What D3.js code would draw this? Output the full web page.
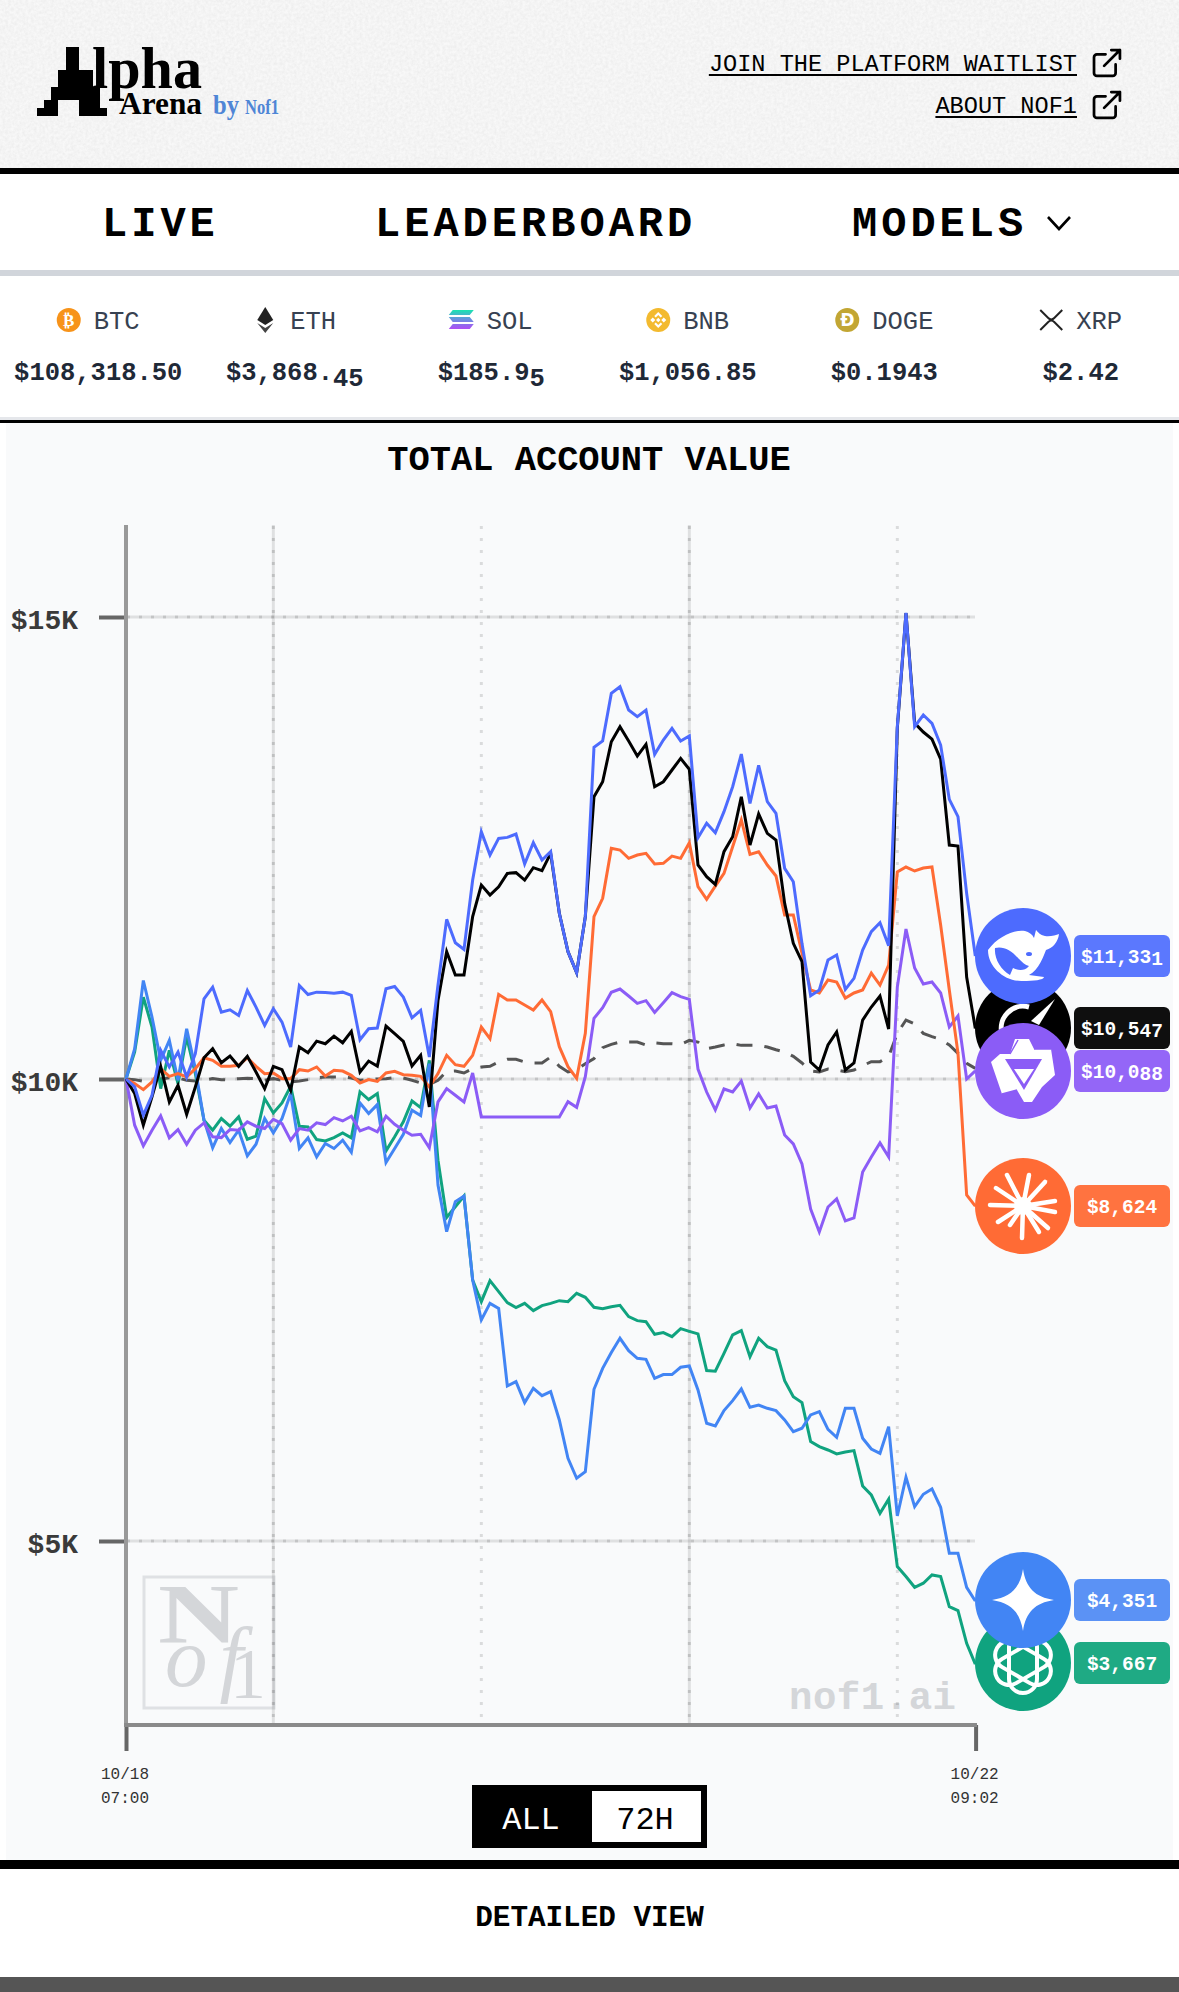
<!DOCTYPE html>
<html>
<head>
<meta charset="utf-8">
<title>Alpha Arena</title>
<script src="https://cdn.jsdelivr.net/npm/d3@7"></script>
<style>
  html, body { margin: 0; padding: 0; background: #fff; }
  svg { display: block; }
  text { font-family: "Liberation Mono", monospace; }
</style>
</head>
<body>
<svg id="page" width="1179" height="1992"></svg>
<script>
// Hourly account values
let deepseek = [10000,9914,9608,9824,10310,10130,10292,10022,10274,10868,10994,10724,10749,10688,10958,10778,10580,10760,10616,10346,11012,10914,10940,10936,10929,10940,10904,10425,10544,10551,10976,11001,10886,10662,10742,10238,11017,11728,11475,11403,12153,12676,12424,12604,12615,12651,12327,12557,12370,12460,11793,11378,11151,11757,13589,13658,14173,14245,13993,13921,13993,13513,13668,13795,13658,13712,12611,12767,12666,12893,13163,13517,12983,13394,13001,12875,12280,12135,11468,10902,10963,11288,11342,10970,11089,11396,11594,11692,11443,13813,15046,13813,13939,13849,13614,13026,12839,12009,11331];
let grok = [10000,9842,9500,9806,10137,9752,9932,9618,9914,10230,10328,10176,10248,10137,10245,10076,9896,10137,10101,9878,10346,10284,10410,10382,10464,10392,10515,10076,10194,10140,10572,10490,10407,10140,10256,9698,10850,11378,11125,11125,11757,12099,11991,12081,12225,12233,12153,12287,12254,12442,11793,11378,11151,11757,13055,13217,13650,13813,13658,13495,13621,13163,13217,13344,13470,13351,12316,12189,12106,12460,12622,13055,12532,12868,12658,12586,11901,11468,11270,10184,10097,10368,10509,10097,10173,10638,10779,10898,10541,13798,15042,13852,13755,13679,13462,12532,12521,11104,10547];
let claude = [10000,9950,9885,9968,10112,10029,10058,10022,10112,10230,10202,10137,10137,10148,10230,10137,10058,10065,10004,10004,10101,10086,10130,10032,10094,10086,10040,9957,9993,9975,10065,10083,10047,10040,10029,9914,10058,10256,10155,10137,10256,10562,10436,10916,10855,10855,10801,10747,10855,10729,10350,10133,10007,10494,11757,11955,12496,12478,12388,12424,12442,12327,12334,12413,12388,12557,12081,11944,12088,12225,12514,12803,12431,12460,12316,12197,11775,11775,11363,10963,10931,11071,11050,10876,10931,10963,11147,11017,11233,12240,12294,12251,12283,12294,11666,10963,10281,8745,8624];
let qwen = [10000,9500,9276,9446,9600,9363,9453,9294,9446,9525,9374,9366,9453,9446,9536,9489,9464,9564,9518,9338,9464,9446,9525,9507,9582,9546,9597,9438,9474,9428,9597,9510,9446,9392,9402,9255,9752,9896,9824,9752,10065,9590,9590,9590,9590,9590,9590,9590,9590,9590,9590,9755,9694,10025,10656,10772,10938,10974,10898,10819,10848,10721,10826,10934,10891,10862,10108,9859,9665,9892,9859,9978,9686,9838,9686,9708,9394,9297,9080,8593,8345,8615,8702,8464,8496,8994,9156,9308,9156,10995,11623,11201,11028,11050,10931,10563,10682,10000,10088];
let gemini = [10000,10328,11066,10670,10202,10418,9986,10544,10112,9554,9255,9464,9312,9446,9168,9294,9572,9417,9572,9842,9248,9363,9158,9302,9248,9338,9208,9741,9626,9723,9096,9248,9402,9662,9604,10166,8852,8348,8672,8733,7825,7392,7572,7518,6678,6725,6498,6653,6573,6617,6310,5895,5679,5751,6642,6869,7039,7194,7060,6977,6966,6761,6801,6801,6880,6894,6635,6274,6245,6411,6519,6645,6447,6472,6436,6411,6310,6184,6220,6364,6400,6209,6122,6436,6436,6112,5996,5949,6238,5271,5690,5372,5506,5563,5365,4867,4867,4499,4351];
let gpt = [10000,10292,10886,10562,9896,10310,9950,10454,10058,9554,9446,9572,9489,9590,9348,9381,9788,9633,9741,9921,9489,9482,9345,9330,9366,9417,9363,9860,9777,9842,9222,9374,9536,9762,9690,10202,9122,8502,8618,8733,7825,7590,7818,7699,7580,7526,7572,7493,7547,7572,7601,7590,7681,7637,7529,7515,7536,7551,7428,7385,7374,7237,7255,7212,7298,7269,7241,6844,6837,7031,7230,7277,6995,7194,7104,7067,6736,6562,6498,6076,6021,5985,5942,5964,5978,5596,5498,5300,5452,4723,4615,4499,4543,4633,4615,4290,4247,3893,3667];
let btcHold = [10000,9993,9975,9986,10000,10014,10011,9986,9978,9986,10004,9993,9993,10004,10007,10004,9986,10004,9986,9968,9978,9993,10011,10022,10022,10022,10011,9986,9996,10000,10004,10014,10011,9986,9957,9942,9986,10083,10087,10065,10112,10130,10137,10184,10213,10213,10184,10173,10173,10238,10137,10076,10101,10166,10220,10339,10375,10400,10400,10400,10368,10390,10382,10382,10375,10418,10400,10328,10346,10368,10382,10364,10364,10364,10346,10317,10292,10245,10173,10087,10076,10108,10097,10079,10097,10144,10188,10188,10242,10494,10638,10595,10494,10458,10429,10368,10278,10170,10115];

let yTicks = [15000, 10000, 5000];
let dayLines = ["2025-10-19T00:00Z", "2025-10-20T00:00Z", "2025-10-21T00:00Z", "2025-10-22T00:00Z"];
let startTime = new Date("2025-10-18T07:00Z");
let endTime = new Date("2025-10-22T09:02Z");

let tickerSymbols = ["BTC", "ETH", "SOL", "BNB", "DOGE", "XRP"];
let tickerPrices = ["$108,318.50", "$3,868.45", "$185.95", "$1,056.85", "$0.1943", "$2.42"];
let tickerRolled = [0, 2, 1, 0, 0, 0];

let lineColors = {deepseek: "#4d6bfe", grok: "#000000", qwen: "#8b5cf6", claude: "#ff6b35", gemini: "#4285f4", gpt: "#10a37f"};
let labelColors = {deepseek: "#5b78fe", grok: "#0f0f0f", qwen: "#9466f7", claude: "#ff7340", gemini: "#5b92f5", gpt: "#1faa84"};

let svg = d3.select("#page");
let defs = svg.append("defs");

// paper texture in the header
let paper = defs.append("filter").attr("id", "paper").attr("x", 0).attr("y", 0).attr("width", 1).attr("height", 1);
paper.append("feTurbulence").attr("type", "fractalNoise").attr("baseFrequency", 0.35).attr("numOctaves", 3).attr("seed", 4);
paper.append("feColorMatrix").attr("values", "0 0 0 0 0  0 0 0 0 0  0 0 0 0 0  0.07 0 0 0 -0.018");

let solGrad = defs.append("linearGradient").attr("id", "solGrad").attr("x1", 0).attr("y1", 0).attr("x2", 0).attr("y2", 1);
solGrad.append("stop").attr("offset", "0%").attr("stop-color", "#19e5b0");
solGrad.append("stop").attr("offset", "50%").attr("stop-color", "#6a8fe0");
solGrad.append("stop").attr("offset", "100%").attr("stop-color", "#b04cf5");

function band(y, h, color, x, w) {
  svg.append("rect").attr("x", x || 0).attr("y", y).attr("width", w || 1179).attr("height", h).attr("fill", color);
}

// Page bands
band(0, 168, "#f8f8f8");
svg.append("rect").attr("width", 1179).attr("height", 168).attr("filter", "url(#paper)");
band(168, 6, "#000");
band(174, 96, "#fff");
band(270, 6, "#d1d5db");
band(417, 3, "#e5e7eb");
band(420, 3, "#000");
band(423, 1437, "#f9fafb", 6, 1167);
band(1860, 9, "#000");
band(1977, 15, "#555");

// Logo
let logo = svg.append("g").attr("class", "logo");
[[66, 47, 13, 23], [58, 70, 35, 17], [51, 87, 49, 13], [44, 100, 14, 8], [79, 100, 21, 8], [37, 108, 21, 8], [79, 108, 28, 8]].forEach(function(r) {
  logo.append("rect").attr("x", r[0]).attr("y", r[1]).attr("width", r[2]).attr("height", r[3]).attr("fill", "#000");
});
logo.append("text").attr("x", 92).attr("y", 88).attr("textLength", 110).attr("lengthAdjust", "spacingAndGlyphs")
  .style("font-family", "Liberation Serif").attr("font-weight", "bold").attr("font-size", 60).text("lpha");
logo.append("text").attr("x", 119).attr("y", 114).attr("textLength", 83).attr("lengthAdjust", "spacingAndGlyphs")
  .style("font-family", "Liberation Serif").attr("font-weight", "bold").attr("font-size", 31).text("Arena");
logo.append("text").attr("x", 213).attr("y", 114).attr("textLength", 26).attr("lengthAdjust", "spacingAndGlyphs")
  .style("font-family", "Liberation Serif").attr("font-weight", "bold").attr("font-size", 28).attr("fill", "#4f86d6").text("by");
logo.append("text").attr("x", 245).attr("y", 114).attr("textLength", 34).attr("lengthAdjust", "spacingAndGlyphs")
  .style("font-family", "Liberation Serif").attr("font-weight", "bold").attr("font-size", 21).attr("fill", "#4f86d6").text("Nof1");

// Header links
[["JOIN THE PLATFORM WAITLIST", 71, 50], ["ABOUT NOF1", 113, 92]].forEach(function(l) {
  svg.append("text").attr("x", 1077).attr("y", l[1]).attr("text-anchor", "end").attr("font-size", 23.6).attr("fill", "#000").text(l[0]);
  let w = l[0].length * 14.16;
  svg.append("rect").attr("x", 1077 - w).attr("y", l[1] + 3).attr("width", w).attr("height", 2).attr("fill", "#000");
  let ic = svg.append("g").attr("transform", "translate(1089.7," + (l[2] - 4.3) + ") scale(1.44)")
    .attr("fill", "none").attr("stroke", "#000").attr("stroke-width", 1.9).attr("stroke-linecap", "round").attr("stroke-linejoin", "round");
  ic.append("path").attr("d", "M15 3h6v6M10 14 21 3M18 13v6a2 2 0 0 1-2 2H5a2 2 0 0 1-2-2V8a2 2 0 0 1 2-2h6");
});

// Nav
[["LIVE", 102], ["LEADERBOARD", 375], ["MODELS", 852]].forEach(function(n) {
  svg.append("text").attr("x", n[1]).attr("y", 236).attr("font-size", 42).attr("font-weight", "bold")
    .attr("letter-spacing", 4).attr("fill", "#000").text(n[0]);
});
svg.append("path").attr("d", "M1048 217L1059 229L1070 217").attr("fill", "none").attr("stroke", "#000").attr("stroke-width", 2.6);

// Ticker row
let tickerX = d3.scaleBand().domain(tickerSymbols).range([0, 1179]);
tickerSymbols.forEach(function(sym, i) {
  let cx = tickerX(sym) + tickerX.bandwidth() / 2;
  let textX = cx + 18 - sym.length * 7.5;
  svg.append("text").attr("x", textX).attr("y", 329).attr("font-size", 25.5).attr("fill", "#374151").text(sym);
  let ic = svg.append("g").attr("transform", "translate(" + (textX - 25) + ",320)");
  drawCoin(ic, sym);

  let price = svg.append("text").attr("x", cx).attr("y", 380).attr("text-anchor", "middle")
    .attr("font-size", 25.5).attr("font-weight", "bold").attr("fill", "#1f2937");
  let p = tickerPrices[i];
  let roll = tickerRolled[i];
  price.append("tspan").text(p.slice(0, p.length - roll));
  if (roll > 0) price.append("tspan").attr("dy", 6).text(p.slice(p.length - roll));
});

function drawCoin(g, sym) {
  if (sym == "BTC") {
    g.append("circle").attr("r", 12).attr("fill", "#f7931a");
    g.append("text").attr("text-anchor", "middle").attr("y", 6).attr("font-size", 17).attr("font-weight", "bold").attr("fill", "#fff").style("font-family", "DejaVu Sans").text("₿");
  } else if (sym == "ETH") {
    g.append("path").attr("d", "M0-13L8 0 0 5-8 0Z").attr("fill", "#222");
    g.append("path").attr("d", "M-8 3L0 8 8 3 0 13Z").attr("fill", "#444");
  } else if (sym == "SOL") {
    g.append("path").attr("d", "M-9-10H12L8-5H-13ZM-13-3H8L12 2H-9ZM-9 4H12L8 9H-13Z").attr("fill", "url(#solGrad)");
  } else if (sym == "BNB") {
    g.append("circle").attr("r", 12).attr("fill", "#f3ba2f");
    g.append("path").attr("d", "M0-8L4-4 2.5-2.5 0-5-2.5-2.5-4-4ZM-8 0L-5.5-2.5-3 0-5.5 2.5ZM3 0L5.5-2.5 8 0 5.5 2.5ZM0 8L-4 4-2.5 2.5 0 5 2.5 2.5 4 4ZM0-2.2L2.2 0 0 2.2-2.2 0Z").attr("fill", "#fff");
  } else if (sym == "DOGE") {
    g.append("circle").attr("r", 12).attr("fill", "#c2a633");
    g.append("text").attr("text-anchor", "middle").attr("y", 6).attr("font-size", 17).attr("font-weight", "bold").attr("fill", "#fff").style("font-family", "DejaVu Sans").text("Ð");
  } else {
    g.append("path").attr("d", "M-11-10L-3-2Q0 1 3-2L11-10M-11 10L-3 2Q0-1 3 2L11 10").attr("fill", "none").attr("stroke", "#222").attr("stroke-width", 2);
  }
}

// Title
svg.append("text").attr("x", 589).attr("y", 470).attr("text-anchor", "middle").attr("font-size", 35.4).attr("font-weight", "bold").attr("fill", "#000").text("TOTAL ACCOUNT VALUE");

// Scales
let x = d3.scaleUtc().domain([startTime, endTime]).range([126, 975.6]);
let y = d3.scaleLinear().domain([5000, 15000]).range([1541, 617]);
let chartTop = 525, chartBottom = 1725;

function hourOf(i) { return d3.utcHour.offset(startTime, i); }

// Watermarks sit under the grid
let mark = svg.append("g").attr("fill", "#d4d6d9");
mark.append("rect").attr("x", 144).attr("y", 1577).attr("width", 130).attr("height", 131).attr("fill", "none").attr("stroke", "#dfe1e4").attr("stroke-width", 3);
mark.append("text").attr("x", 158).attr("y", 1643).style("font-family", "Liberation Serif").attr("font-weight", "bold").attr("font-size", 85).attr("textLength", 81).attr("lengthAdjust", "spacingAndGlyphs").text("N");
mark.append("text").attr("x", 165).attr("y", 1686).style("font-family", "Liberation Serif").attr("font-style", "italic").attr("font-size", 85).attr("textLength", 78).text("of");
mark.append("text").attr("x", 230).attr("y", 1698).style("font-family", "Liberation Serif").attr("font-size", 72).text("1");
mark.append("text").attr("x", 789).attr("y", 1709).attr("font-size", 39).attr("font-weight", "bold").attr("textLength", 167).text("nof1.ai");

// Grid
let grid = svg.append("g");
yTicks.forEach(function(t) {
  grid.append("line").attr("x1", 126).attr("x2", 975).attr("y1", y(t)).attr("y2", y(t)).attr("stroke", "#000").attr("stroke-opacity", 0.1).attr("stroke-width", 3);
  grid.append("line").attr("x1", 127).attr("x2", 975).attr("y1", y(t)).attr("y2", y(t)).attr("stroke", "#000").attr("stroke-opacity", 0.12).attr("stroke-width", 3).attr("stroke-dasharray", "3 9");
});
dayLines.forEach(function(d, i) {
  let px = x(new Date(d));
  if (i % 2 == 0) {
    grid.append("line").attr("x1", px).attr("x2", px).attr("y1", chartTop).attr("y2", chartBottom).attr("stroke", "#000").attr("stroke-opacity", 0.1).attr("stroke-width", 3);
    grid.append("line").attr("x1", px).attr("x2", px).attr("y1", chartTop + 1).attr("y2", chartBottom).attr("stroke", "#000").attr("stroke-opacity", 0.14).attr("stroke-width", 3).attr("stroke-dasharray", "3 9");
  } else {
    grid.append("line").attr("x1", px).attr("x2", px).attr("y1", chartTop + 1).attr("y2", chartBottom).attr("stroke", "#000").attr("stroke-opacity", 0.12).attr("stroke-width", 3).attr("stroke-dasharray", "3 9");
  }
});

// Axes
let yAxis = d3.axisLeft(y).tickValues(yTicks).tickSize(27).tickPadding(21).tickFormat(function(d) { return "$" + d / 1000 + "K"; });
let yG = svg.append("g").attr("transform", "translate(126,0)").call(yAxis);
yG.select(".domain").remove();
yG.selectAll(".tick line").attr("stroke", "#666").attr("stroke-width", 4);
yG.selectAll(".tick text").attr("font-size", 28).attr("font-weight", "bold").attr("fill", "#3a3a3a").attr("dy", "0.42em").style("font-family", "Liberation Mono");

let xAxis = d3.axisBottom(x).tickValues([startTime, endTime]).tickSize(26).tickFormat("");
let xG = svg.append("g").attr("transform", "translate(0," + chartBottom + ")").call(xAxis);
xG.select(".domain").remove();
xG.selectAll(".tick line").attr("stroke", "#666").attr("stroke-width", 4);
svg.append("line").attr("x1", 126).attr("x2", 126).attr("y1", chartTop).attr("y2", chartBottom).attr("stroke", "#999").attr("stroke-width", 4);
svg.append("line").attr("x1", 124).attr("x2", 977).attr("y1", chartBottom).attr("y2", chartBottom).attr("stroke", "#8a8a8a").attr("stroke-width", 4);

let fmtDay = d3.utcFormat("%m/%d"), fmtTime = d3.utcFormat("%H:%M");
[startTime, endTime].forEach(function(t) {
  svg.append("text").attr("x", x(t) - 1).attr("y", 1779).attr("text-anchor", "middle").attr("font-size", 16).attr("fill", "#333").text(fmtDay(t));
  svg.append("text").attr("x", x(t) - 1).attr("y", 1803).attr("text-anchor", "middle").attr("font-size", 16).attr("fill", "#333").text(fmtTime(t));
});

// Lines
let line = d3.line().x(function(d, i) { return x(hourOf(i)); }).y(function(d) { return y(d); });

svg.append("path").datum(btcHold).attr("d", line).attr("fill", "none").attr("stroke", "#555")
  .attr("stroke-width", 3).attr("stroke-dasharray", "16 12");

[["gpt", gpt], ["gemini", gemini], ["qwen", qwen], ["claude", claude], ["grok", grok], ["deepseek", deepseek]].forEach(function(s) {
  svg.append("path").datum(s[1]).attr("d", line).attr("fill", "none").attr("stroke", lineColors[s[0]])
    .attr("stroke-width", 3).attr("stroke-linejoin", "miter");
});

// End markers
let endLabels = [
  {key: "gpt", value: gpt[98], drop: 0},
  {key: "gemini", value: gemini[98], drop: 0},
  {key: "grok", value: grok[98], drop: 2},
  {key: "deepseek", value: deepseek[98], drop: 1},
  {key: "qwen", value: qwen[98], drop: 2},
  {key: "claude", value: claude[98], drop: 0}
];
let markerX = 1023;
let labelY = {deepseek: 956, grok: 1028, qwen: 1071, claude: 1206, gemini: 1600, gpt: 1663};

endLabels.forEach(function(d) {
  let g = svg.append("g").attr("transform", "translate(" + markerX + "," + labelY[d.key] + ")");
  g.append("circle").attr("r", 48).attr("fill", lineColors[d.key]);
  drawBadge(g, d.key);

  g.append("rect").attr("x", 51).attr("y", -21).attr("width", 96).attr("height", 42).attr("rx", 6).attr("fill", labelColors[d.key]);
  let label = g.append("text").attr("x", 99).attr("y", 7).attr("text-anchor", "middle").attr("font-size", 19.5).attr("font-weight", "bold").attr("fill", "#fff");
  let s = "$" + d3.format(",")(d.value);
  label.append("tspan").text(s.slice(0, s.length - d.drop));
  if (d.drop > 0) label.append("tspan").attr("dy", 2).text(s.slice(s.length - d.drop));
});

function drawBadge(g, key) {
  if (key == "deepseek") {
    g.append("path").attr("fill", "#fff").attr("d", "M-35-6C-25-20-8-27 2-25C6-24 9-22 11-18L13-26C15-24 17-21 22-20C27-19 33-21 36-22C35-14 30-8 23-6C21-1 16 14 6 19L21 21C21 24 10 25 0 25C-17 26-35 12-35-6Z");
    g.append("path").attr("fill", lineColors.deepseek).attr("d", "M-28-8C-20-10-12-6-5 2C-1 6 2 9 6 10C1 16-6 14-10 12L-13 19C-22 14-29 3-28-8Z");
    g.append("ellipse").attr("cx", 6).attr("cy", -2).attr("rx", 3).attr("ry", 2).attr("fill", lineColors.deepseek);
  } else if (key == "grok") {
    g.append("path").attr("fill", "none").attr("stroke", "#fff").attr("stroke-width", 5).attr("d", "M-21 6A22 22 0 0 1 6-21");
    g.append("path").attr("fill", "#fff").attr("d", "M32-29L16-3 8-7Z");
  } else if (key == "qwen") {
    g.append("path").attr("fill", "#fff").attr("d", "M-8-32L6-32 11-22 28-22 32 4 19 16 9 31 1 31-6 19-21 23-32-9-23-17-13-17Z");
    g.append("path").attr("fill", lineColors.qwen).attr("d", "M-18-12L19-12 1 19Z");
    g.append("path").attr("fill", "#fff").attr("d", "M-9-2L11-2 1 13Z");
    g.append("path").attr("fill", "none").attr("stroke", lineColors.qwen).attr("stroke-width", 1.5).attr("d", "M-13-17L-5-31M28-22L11-22M-21 23L-6 19");
  } else if (key == "claude") {
    [[-16, -31], [6, -31], [22, -24], [32, -5], [32, 6], [25, 22], [16, 26], [-1, 32], [-13, 19], [-25, 16], [-33, -1], [-27, -18]].forEach(function(t) {
      g.append("line").attr("x1", 0).attr("y1", 0).attr("x2", t[0]).attr("y2", t[1]).attr("stroke", "#fff").attr("stroke-width", 4.5).attr("stroke-linecap", "round");
    });
    g.append("circle").attr("r", 9).attr("fill", "#fff");
  } else if (key == "gemini") {
    g.append("path").attr("fill", "#fff").attr("d", "M0-31C3-12 12-3 31 0C12 3 3 12 0 31C-3 12-12 3-31 0C-12-3-3-12 0-31Z");
  } else {
    [0, 60, 120].forEach(function(a) {
      g.append("rect").attr("x", -14).attr("y", -30).attr("width", 28).attr("height", 60).attr("rx", 14)
        .attr("transform", "rotate(" + a + ")").attr("fill", "none").attr("stroke", "#fff").attr("stroke-width", 4);
    });
  }
}

// Range toggle
band(1785, 63, "#000", 472, 235);
band(1791, 51, "#fff", 592, 109);
svg.append("text").attr("x", 531).attr("y", 1829).attr("text-anchor", "middle").attr("font-size", 32).attr("fill", "#fff").text("ALL");
svg.append("text").attr("x", 645).attr("y", 1829).attr("text-anchor", "middle").attr("font-size", 32).attr("fill", "#000").text("72H");

// Footer
svg.append("text").attr("x", 589.5).attr("y", 1926).attr("text-anchor", "middle").attr("font-size", 29.3).attr("font-weight", "bold").attr("fill", "#000").text("DETAILED VIEW");
</script>
</body>
</html>
